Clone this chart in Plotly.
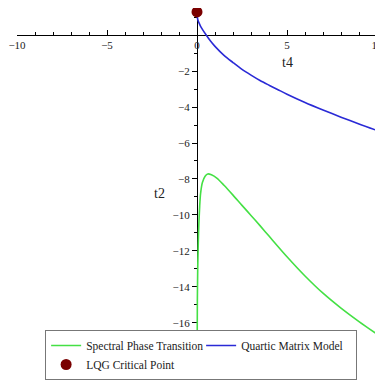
import plotly.graph_objects as go

# Spectral Phase Transition (green)
green_t4 = [0.003, 0.02, 0.04, 0.07, 0.1, 0.15, 0.2, 0.3, 0.45, 0.6, 0.8, 1.1, 1.5, 2.0,
            2.5, 3.0, 3.5, 4.0, 5.0, 6.0, 7.0, 8.0, 9.0, 10.0]
green_t2 = [-19.0, -14.8, -13.0, -11.6, -10.6, -9.5, -8.8, -8.2, -7.85, -7.72, -7.77, -7.95,
            -8.35, -8.9, -9.47, -10.03, -10.6, -11.18, -12.33, -13.4, -14.36, -15.19, -15.94, -16.64]

# Quartic Matrix Model (blue)
blue_t4 = [0.0, 0.05, 0.1, 0.2, 0.3, 0.5, 0.75, 1.0, 1.5, 2.0, 2.5, 3.0, 3.5, 4.0, 4.5,
           5.0, 6.0, 7.0, 8.0, 9.0, 10.0]
blue_t2 = [1.1, 0.85, 0.72, 0.5, 0.33, 0.03, -0.32, -0.62, -1.12, -1.52, -1.9, -2.22, -2.52,
           -2.78, -3.03, -3.28, -3.74, -4.16, -4.56, -4.94, -5.3]

# LQG Critical Point
point_t4 = [0.0]
point_t2 = [1.3]

x_ticks = [-10, -5, 0, 5, 10]
y_ticks = [-16, -14, -12, -10, -8, -6, -4, -2]

XR = [-10, 10]
YR = [-17.3, 1.35]

serif = "Liberation Serif"

fig = go.Figure()
fig.add_trace(go.Scatter(x=green_t4, y=green_t2, mode="lines", name="Spectral Phase Transition",
                         line=dict(color="#44e044", width=1.6, shape="spline", smoothing=0.8)))
fig.add_trace(go.Scatter(x=blue_t4, y=blue_t2, mode="lines", name="Quartic Matrix Model",
                         line=dict(color="#2a2ad6", width=1.6, shape="spline", smoothing=0.8)))
fig.add_trace(go.Scatter(x=point_t4, y=point_t2, mode="markers", name="LQG Critical Point",
                         marker=dict(color="#7a0000", size=11), cliponaxis=False))

xpos = (0 - YR[0]) / (YR[1] - YR[0])
ypos = (0 - XR[0]) / (XR[1] - XR[0])

# the page body has an 8px default margin, so the figure is 8px smaller than the window
fig.update_layout(
    width=375, height=372,
    margin=dict(l=8.5, r=6.3, t=2.7, b=33.6, autoexpand=False),
    paper_bgcolor="white", plot_bgcolor="white",
    font=dict(family=serif),
    showlegend=True,
    legend=dict(orientation="h", xref="container", yref="container",
                x=0.099, xanchor="left", y=0, yanchor="bottom",
                bordercolor="#777777", borderwidth=1, font=dict(family=serif, size=11.5, color="#222"),
                itemwidth=30, entrywidth=110, entrywidthmode="pixels",
                tracegroupgap=0, bgcolor="white"),
    xaxis=dict(range=XR, anchor="free", position=xpos, showgrid=False, zeroline=False,
               showline=True, linecolor="black", linewidth=1,
               tickvals=x_ticks, ticks="inside", ticklen=5, tickcolor="black",
               ticklabeloverflow="allow",
               minor=dict(dtick=1, ticks="inside", ticklen=3, tickcolor="black"),
               tickfont=dict(family=serif, size=11, color="#222"), layer="below traces"),
    yaxis=dict(range=YR, anchor="free", position=ypos, showgrid=False, zeroline=False,
               showline=True, linecolor="black", linewidth=1,
               tickvals=y_ticks, ticks="outside", ticklen=5, tickcolor="black",
               minor=dict(dtick=1, ticks="outside", ticklen=3, tickcolor="black"),
               tickfont=dict(family=serif, size=11, color="#222"), layer="below traces"),
    annotations=[
        dict(x=5, y=-1.5, xref="x", yref="y", text="t4", showarrow=False,
             font=dict(family=serif, size=14, color="#222")),
        dict(x=-2.1, y=-8.8, xref="x", yref="y", text="t2", showarrow=False,
             font=dict(family=serif, size=14, color="#222")),
    ],
)

fig.write_html("out.html")
